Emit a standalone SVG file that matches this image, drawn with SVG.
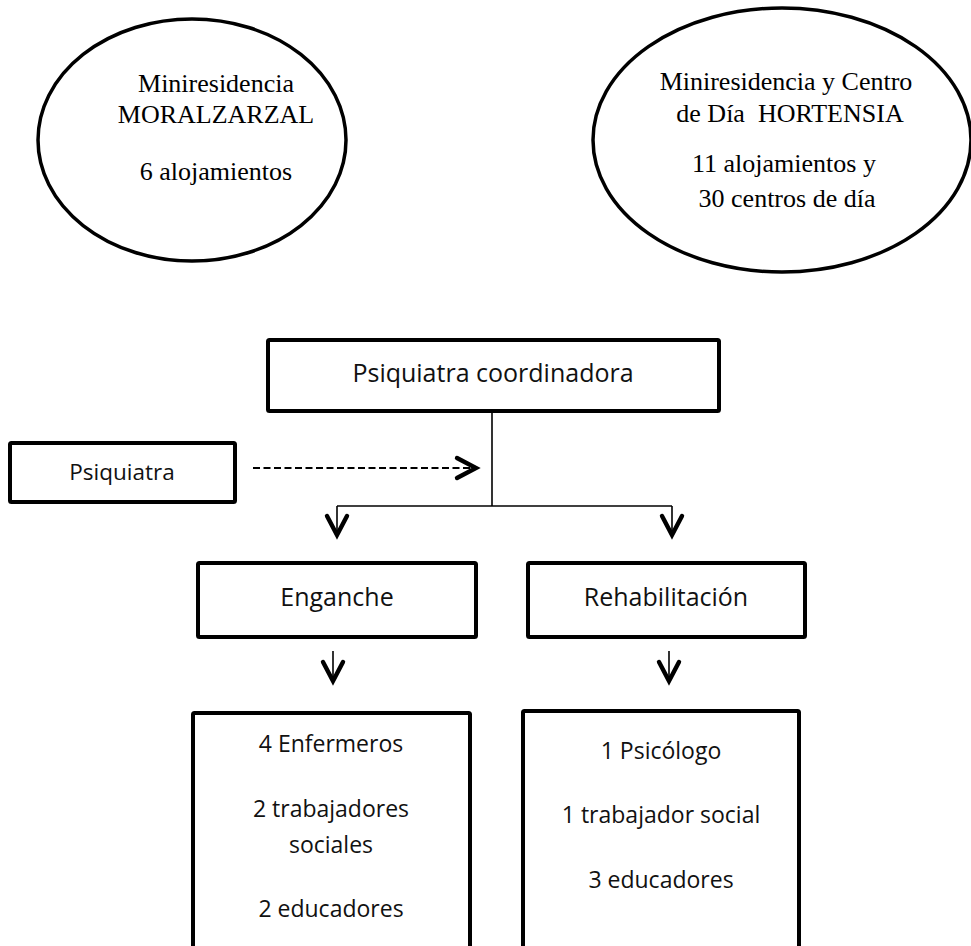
<svg xmlns="http://www.w3.org/2000/svg" width="971" height="946" viewBox="0 0 971 946">
<style>
.ell{fill:#fff;stroke:#000;stroke-width:3.5}
.box{fill:#fff;stroke:#000;stroke-width:4}
.serif{font-family:"Liberation Serif","Times New Roman",serif;font-size:26px;fill:#000;text-anchor:middle}
.sans{font-family:"Open Sans","Noto Sans",sans-serif;fill:#111;text-anchor:middle}
.thin{fill:none;stroke:#000;stroke-width:1.6}
.dash{fill:none;stroke:#000;stroke-width:2.2;stroke-dasharray:7 3.5}
</style>
<defs>
<marker id="chev" markerUnits="userSpaceOnUse" markerWidth="30" markerHeight="30" refX="0" refY="0" orient="auto" overflow="visible">
<path d="M-19,-10 L0,0 L-19,10" fill="none" stroke="#000" stroke-width="4.4" stroke-linecap="round" stroke-linejoin="miter" stroke-dasharray="none"/>
</marker>
</defs>
<rect width="971" height="946" fill="#fff"/>

<g id="moralzarzal">
<ellipse class="ell" cx="192" cy="140" rx="154" ry="121"/>
<text class="serif" x="216" y="92">Miniresidencia</text>
<text class="serif" x="216" y="123">MORALZARZAL</text>
<text class="serif" x="216" y="180">6 alojamientos</text>
</g>

<g id="hortensia">
<ellipse class="ell" cx="782" cy="140" rx="189" ry="132"/>
<text class="serif" x="786" y="90">Miniresidencia y Centro</text>
<text class="serif" x="790" y="122" style="white-space:pre">de Día  HORTENSIA</text>
<text class="serif" x="784" y="172">11 alojamientos y</text>
<text class="serif" x="787" y="207">30 centros de día</text>
</g>

<g id="coordinadora">
<rect class="box" x="268" y="340" width="451" height="71" rx="1.5"/>
<text class="sans" x="493" y="382" font-size="25">Psiquiatra coordinadora</text>
</g>

<g id="psiquiatra">
<rect class="box" x="10" y="443" width="225" height="59" rx="1.5"/>
<text class="sans" x="122" y="480" font-size="22.5">Psiquiatra</text>
</g>

<g id="enganche">
<rect class="box" x="198" y="563" width="278" height="74" rx="1.5"/>
<text class="sans" x="337" y="606" font-size="25">Enganche</text>
</g>

<g id="rehabilitacion">
<rect class="box" x="528" y="563" width="277" height="74" rx="1.5"/>
<text class="sans" x="666" y="606" font-size="25">Rehabilitación</text>
</g>

<g id="equipo-enganche">
<rect class="box" x="193" y="713" width="277" height="260" rx="1.5"/>
<text class="sans" x="331" y="752" font-size="23">4 Enfermeros</text>
<text class="sans" x="331" y="817" font-size="23">2 trabajadores</text>
<text class="sans" x="331" y="853" font-size="23">sociales</text>
<text class="sans" x="331" y="917" font-size="23">2 educadores</text>
</g>

<g id="equipo-rehabilitacion">
<rect class="box" x="523" y="711" width="276" height="262" rx="1.5"/>
<text class="sans" x="661" y="759" font-size="23">1 Psicólogo</text>
<text class="sans" x="661" y="823" font-size="23">1 trabajador social</text>
<text class="sans" x="661" y="888" font-size="23">3 educadores</text>
</g>

<g id="connectors">
<polyline class="thin" points="492,412 492,506"/>
<polyline class="thin" points="337,506 672,506"/>
<line class="thin" x1="337" y1="506" x2="337" y2="535" marker-end="url(#chev)"/>
<line class="thin" x1="672" y1="506" x2="672" y2="535" marker-end="url(#chev)"/>
<line class="dash" x1="253" y1="468" x2="476" y2="468" marker-end="url(#chev)"/>
<line class="thin" x1="333" y1="651" x2="333" y2="681" marker-end="url(#chev)"/>
<line class="thin" x1="669" y1="651" x2="669" y2="681" marker-end="url(#chev)"/>
</g>
</svg>
